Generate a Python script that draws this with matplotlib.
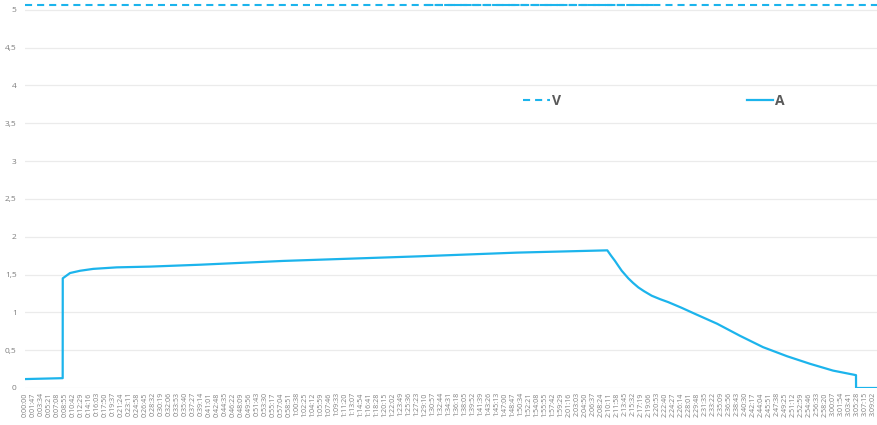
import matplotlib
matplotlib.use("Agg")
import matplotlib.pyplot as plt
from matplotlib.ticker import FuncFormatter

plt.rcParams['font.family'] = ['Open Sans', 'DejaVu Sans']

# current (A), time in seconds
a_time = [0, 504, 505, 602, 736, 913, 1226, 1672, 2341, 3451, 5243, 6581,
          7788, 7838, 7891, 7932, 7981, 8025, 8069, 8132, 8203, 8279, 8382,
          8493, 8604, 8783, 8961, 9256, 9563, 9871, 10192, 10499, 10807,
          11114, 11115, 11395]
a_vals = [0.118, 0.13, 1.45, 1.52, 1.55, 1.575, 1.595, 1.605, 1.63, 1.68,
          1.74, 1.79, 1.82, 1.75, 1.68, 1.62, 1.55, 1.50, 1.45, 1.39, 1.33,
          1.28, 1.22, 1.175, 1.135, 1.06, 0.98, 0.85, 0.69, 0.54, 0.42, 0.32,
          0.23, 0.17, 0.0, 0.0]

# voltage (V)
v_time = [0, 5350, 8430, 11395]
v_vals = [5.066, 5.066, 5.066, 5.066]
v_noisy = (5350, 8430)  # stretch where the dashes run together

tick_step = 107
tick_count = 107

blue = '#1cb4ec'
grey_txt = '#7f7f7f'


def hms(s):
    s = int(round(s))
    return f"{s // 3600}:{(s % 3600) // 60:02d}:{s % 60:02d}"


fig = plt.figure(figsize=(8.77, 4.25), dpi=100)
ax = fig.add_axes([25 / 877, 37 / 425, 852 / 877, 388 / 425])

ax.plot(v_time, v_vals, color=blue, lw=1.5, dashes=(3.4, 2.4), label='V',
        clip_on=False)
seg_t = [t for t in v_time if v_noisy[0] <= t <= v_noisy[1]]
seg_v = [v for t, v in zip(v_time, v_vals) if v_noisy[0] <= t <= v_noisy[1]]
ax.plot(seg_t, seg_v, color=blue, lw=1.5, dashes=(4, 0.6), clip_on=False)
ax.plot(a_time, a_vals, color=blue, lw=1.6, label='A')

ax.set_xlim(0, 11395)
ax.set_ylim(0, 5.13)
ax.set_yticks([i * 0.5 for i in range(11)])
ax.yaxis.set_major_formatter(FuncFormatter(lambda v, p: f"{v:g}".replace('.', ',')))
ticks = [i * tick_step for i in range(tick_count)]
ax.set_xticks(ticks)
ax.set_xticklabels([hms(t) for t in ticks], rotation=90, fontsize=5.1,
                   color=grey_txt)
ax.tick_params(axis='y', labelsize=6, colors=grey_txt, length=0, pad=6)
ax.tick_params(axis='x', length=0, pad=3)
ax.grid(axis='y', color='#ebebeb', lw=0.9)
ax.set_axisbelow(True)
for sp in ax.spines.values():
    sp.set_visible(False)

leg = ax.legend(ncol=2, loc='upper left', bbox_to_anchor=(0.57, 0.79),
                frameon=False, handlelength=1.9, handletextpad=0.15,
                columnspacing=13.4, prop={'weight': 'bold', 'size': 10})
for t in leg.get_texts():
    t.set_color('#595959')

fig.savefig('out.png', dpi=100)
